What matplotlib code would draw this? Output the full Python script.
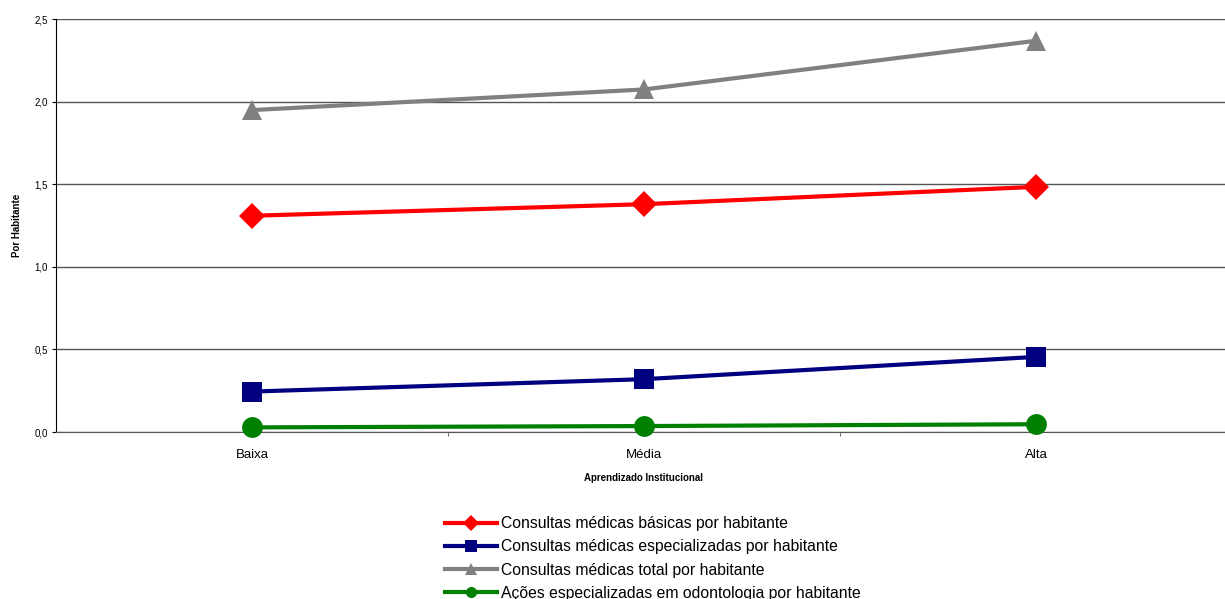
import matplotlib
matplotlib.use("Agg")
import matplotlib.pyplot as plt
from matplotlib.ticker import FuncFormatter

plt.rcParams['font.family'] = ['Liberation Sans', 'DejaVu Sans']

# dados
niveis = ["Baixa", "Média", "Alta"]
basicas = [1.31, 1.38, 1.485]
especializadas = [0.245, 0.32, 0.455]
total = [1.95, 2.075, 2.37]
odontologia = [0.028, 0.036, 0.047]

series = [
    ("Consultas médicas básicas por habitante", basicas, "#ff0000", "D", 13),
    ("Consultas médicas especializadas por habitante", especializadas, "#000080", "s", 14),
    ("Consultas médicas total por habitante", total, "#808080", "^", 15),
    ("Ações especializadas em odontologia por habitante", odontologia, "#008000", "o", 15),
]

fig = plt.figure(figsize=(12.25, 5.99), dpi=100)
ax = fig.add_axes([56 / 1225, 1 - 432 / 599, (1232 - 56) / 1225, (432 - 19.3) / 599])

x = list(range(len(niveis)))
for nome, valores, cor, marcador, tam in series:
    ax.plot(x, valores, color=cor, linewidth=3, marker=marcador, markersize=tam,
            markeredgewidth=0, label=nome, clip_on=False, zorder=3)

ax.set_xlim(-0.5, 2.5)
ax.set_ylim(0, 2.5)
ax.set_yticks([0, 0.5, 1.0, 1.5, 2.0, 2.5])
ax.yaxis.set_major_formatter(FuncFormatter(lambda v, p: f"{v:.1f}".replace(".", ",")))
ax.set_xticks(x)
ax.set_xticklabels(niveis, fontsize=9.5)
ax.set_xticks([0.5, 1.5], minor=True)
ax.tick_params(axis='x', which='major', length=0, pad=12)
ax.tick_params(axis='x', which='minor', length=3, direction='out', color='#555555')
ax.tick_params(axis='y', labelsize=7, length=3, color='black', pad=3)
ax.grid(axis='y', color='#555555', linewidth=1)
ax.set_axisbelow(True)

for lado in ['top', 'right']:
    ax.spines[lado].set_visible(False)
ax.spines['left'].set_color('black')
ax.spines['bottom'].set_color('#555555')

ax.set_ylabel("Por Habitante", fontsize=7, fontweight='bold')
ax.yaxis.set_label_coords(-0.029, 0.5)
ax.set_xlabel("Aprendizado Institucional", fontsize=7, fontweight='bold', labelpad=9)

leg = fig.legend(loc='upper left', bbox_to_anchor=(445 / 1225, 1 - 516 / 599),
                 frameon=False, fontsize=11.3, handlelength=3.3, handletextpad=0.25,
                 labelspacing=0.53, borderaxespad=0, borderpad=0)
for h in leg.legend_handles:
    h.set_markersize(8)

fig.savefig("out.png", dpi=100)
